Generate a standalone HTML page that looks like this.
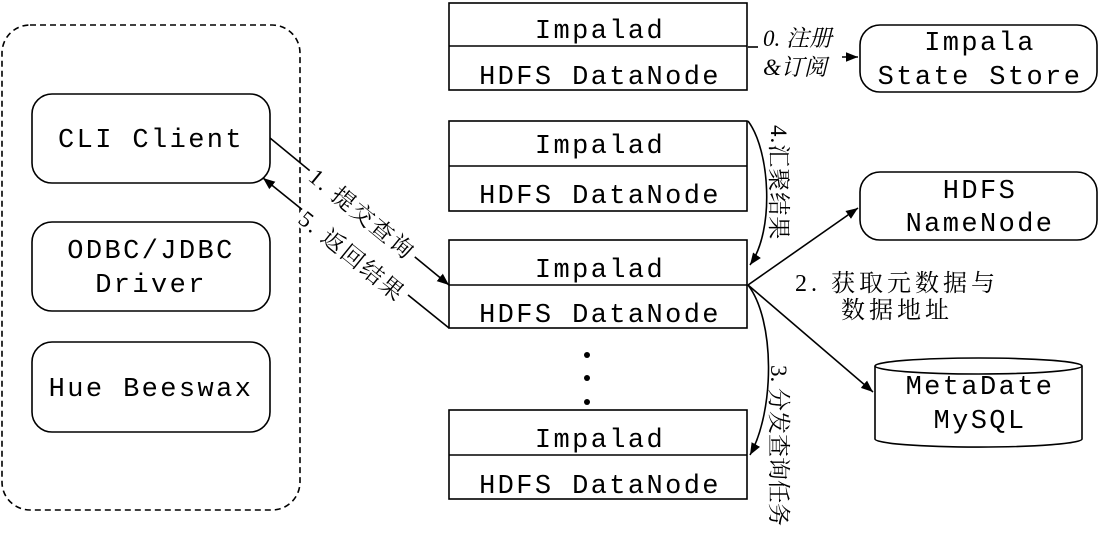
<!DOCTYPE html>
<html><head><meta charset="utf-8"><style>
html,body{margin:0;padding:0;background:#fff;}
svg{display:block;}
.m{font-family:"Liberation Mono","Noto Serif CJK SC",monospace;font-size:27px;letter-spacing:2.4px;fill:#000;}
.c{font-family:"Liberation Serif","Noto Serif CJK SC","Noto Sans CJK SC",serif;font-size:23px;fill:#000;}
</style></head><body>
<svg width="1100" height="543" viewBox="0 0 1100 543" xmlns="http://www.w3.org/2000/svg">
<defs>
<marker id="a" viewBox="0 0 10 10" refX="10" refY="5" markerWidth="12" markerHeight="12" markerUnits="userSpaceOnUse" orient="auto-start-reverse"><path d="M0,1 L10,5 L0,9 z" fill="#000"/></marker>
</defs>
<g fill="none" stroke="#000" stroke-width="1.6">
<rect x="2" y="25" width="298" height="485" rx="28" stroke-dasharray="6,4"/>
<rect x="32" y="94" width="238" height="89" rx="20"/>
<rect x="32" y="222" width="238" height="89" rx="20"/>
<rect x="32" y="342" width="238" height="90" rx="20"/>
<rect x="449" y="3" width="298" height="87"/><line x1="449" y1="46" x2="747" y2="46"/>
<rect x="449" y="121" width="298" height="90"/><line x1="449" y1="166" x2="747" y2="166"/>
<rect x="449" y="240" width="298" height="88"/><line x1="449" y1="285" x2="747" y2="285"/>
<rect x="449" y="410" width="298" height="89"/><line x1="449" y1="455" x2="747" y2="455"/>
<rect x="860" y="25" width="237" height="67" rx="20"/>
<rect x="860" y="172" width="237" height="68" rx="20"/>
<path d="M875,366 L875,439 A103,8 0 0 0 1082,439 L1082,366"/>
<ellipse cx="978.5" cy="366" rx="103.5" ry="8"/>
<path d="M748,47 L758,47" />
<path d="M838,57 L858,57" marker-end="url(#a)"/>
<path d="M270,138 L449,285" marker-end="url(#a)"/>
<path d="M449,328 L263,178" marker-end="url(#a)"/>
<path d="M748,121 C770,150 775,230 750,265" marker-end="url(#a)"/>
<path d="M748,285 C775,320 775,410 750,455" marker-end="url(#a)"/>
<path d="M748,285 L858,208" marker-end="url(#a)"/>
<path d="M748,285 L873,392" marker-end="url(#a)"/>
</g>
<g fill="#000"><circle cx="587" cy="355" r="3"/><circle cx="587" cy="378" r="3"/><circle cx="587" cy="402" r="3"/></g>
<g class="m" text-anchor="middle">
<text x="151" y="147">CLI Client</text>
<text x="151" y="258">ODBC/JDBC</text>
<text x="151" y="292">Driver</text>
<text x="151" y="396">Hue Beeswax</text>
<text x="600" y="38">Impalad</text><text x="600" y="84">HDFS DataNode</text>
<text x="600" y="153">Impalad</text><text x="600" y="203">HDFS DataNode</text>
<text x="600" y="277">Impalad</text><text x="600" y="322">HDFS DataNode</text>
<text x="600" y="447">Impalad</text><text x="600" y="493">HDFS DataNode</text>
<text x="980" y="50">Impala</text>
<text x="980" y="84">State Store</text>
<text x="980" y="198">HDFS</text>
<text x="980" y="231">NameNode</text>
<text x="980" y="394">MetaDate</text>
<text x="980" y="428">MySQL</text>
</g>
<g class="c">
<rect x="760" y="26" width="82" height="56" fill="#fff"/>
<text x="763" y="46" font-style="italic">0. 注册</text>
<text x="763" y="75" font-style="italic">&amp;订阅</text>
<g transform="translate(362,214) rotate(39.4)"><rect x="-68" y="-15" width="136" height="26" fill="#fff"/><text x="0" y="8" text-anchor="middle" letter-spacing="2">1. 提交查询</text></g>
<g transform="translate(352,256) rotate(39)"><rect x="-68" y="-15" width="136" height="26" fill="#fff"/><text x="0" y="8" text-anchor="middle" letter-spacing="2">5. 返回结果</text></g>
<text transform="translate(771,125) rotate(90)" letter-spacing="1">4.汇聚结果</text>
<text transform="translate(771,365) rotate(90)">3. 分发查询任务</text>
<text x="795" y="291" font-size="24" letter-spacing="4">2. 获取元数据与</text>
<text x="841" y="318" font-size="24" letter-spacing="4">数据地址</text>
</g>
</svg>
</body></html>
